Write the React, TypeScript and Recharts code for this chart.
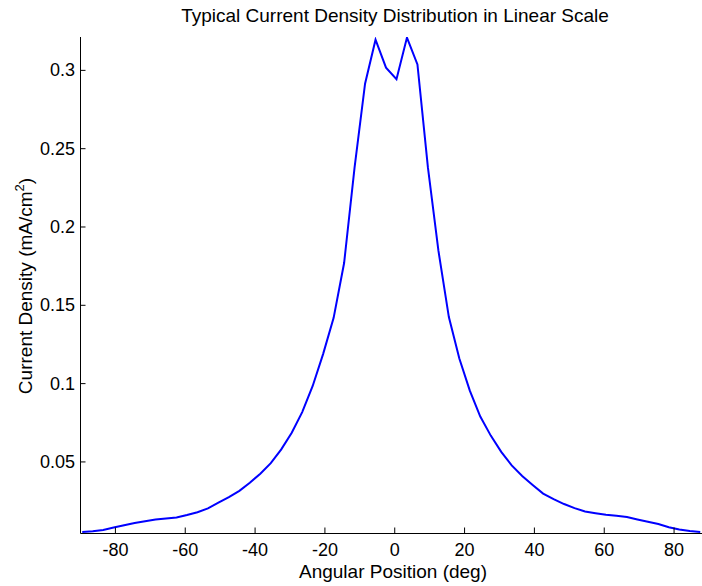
import React from "react";
import { LineChart, Line, XAxis, YAxis } from "recharts";

// angular positions (deg) and measured current density (mA/cm^2)
const angles = [
  -89.5, -86.5, -83.5, -80.5, -77.5, -74.5, -71.5, -68.5, -65.5, -62.5,
  -59.5, -56.5, -53.5, -50.5, -47.5, -44.5, -41.5, -38.5, -35.5, -32.5,
  -29.5, -26.5, -23.5, -20.5, -17.5, -14.5, -11.5, -8.5, -5.5, -2.5,
  0.5, 3.5, 6.5, 9.5, 12.5, 15.5, 18.5, 21.5, 24.5, 27.5,
  30.5, 33.5, 36.5, 39.5, 42.5, 45.5, 48.5, 51.5, 54.5, 57.5,
  60.5, 63.5, 66.5, 69.5, 72.5, 75.5, 78.5, 81.5, 84.5, 87.5,
];
const density = [
  0.0053, 0.0058, 0.0066, 0.0081, 0.0096, 0.011, 0.0121, 0.0132, 0.0138, 0.0145,
  0.0161, 0.0179, 0.0203, 0.024, 0.0275, 0.0315, 0.0367, 0.0425, 0.0492, 0.058,
  0.0686, 0.0818, 0.0985, 0.119, 0.142, 0.177, 0.238, 0.2915, 0.3196, 0.3017,
  0.2943, 0.3209, 0.3038, 0.238, 0.185, 0.1425, 0.116, 0.0955, 0.079, 0.0668,
  0.0564, 0.0478, 0.041, 0.0353, 0.0298, 0.0262, 0.0231, 0.0205, 0.0184, 0.0173,
  0.0163, 0.0156, 0.0148, 0.0133, 0.0118, 0.0104, 0.0083, 0.0069, 0.0059, 0.0052,
];
const xTicks = [-80, -60, -40, -20, 0, 20, 40, 60, 80];
const yTicks = [0.05, 0.1, 0.15, 0.2, 0.25, 0.3];

const data = angles.map((deg, i) => ({ deg, value: density[i] }));

const FONT = "'Liberation Sans', Arial, Helvetica, sans-serif";
const PLOT_LEFT = 80.5;
const PLOT_TOP = 37;
const PLOT_BOTTOM = 533.5;

function BottomTick({ x, payload }: any) {
  return (
    <g>
      <line x1={x} x2={x} y1={PLOT_BOTTOM} y2={PLOT_BOTTOM - 6} stroke="#000" />
      <text x={x} y={556} textAnchor="middle" fontSize={18} fontFamily={FONT} fill="#000">
        {payload.value}
      </text>
    </g>
  );
}

function TopTick({ x }: any) {
  return <line x1={x} x2={x} y1={PLOT_TOP} y2={PLOT_TOP + 6} stroke="#000" />;
}

function LeftTick({ y, payload }: any) {
  return (
    <g>
      <line x1={PLOT_LEFT} x2={PLOT_LEFT + 5} y1={y} y2={y} stroke="#000" />
      <text x={75} y={y} dy={6} textAnchor="end" fontSize={18} fontFamily={FONT} fill="#000">
        {String(payload.value)}
      </text>
    </g>
  );
}

export default function App() {
  return (
    <div style={{ position: "absolute", left: 0, top: 0, width: 702, height: 586, background: "#fff", overflow: "hidden" }}>
      <div
        style={{
          position: "absolute",
          left: 0,
          top: 5,
          width: 790,
          textAlign: "center",
          fontFamily: FONT,
          fontSize: 19,
          lineHeight: "22px",
          color: "#000",
          whiteSpace: "nowrap",
        }}
      >
        Typical Current Density Distribution in Linear Scale
      </div>
      <LineChart width={702} height={586} data={data} margin={{ top: PLOT_TOP, right: 0, bottom: 0, left: 0 }}>
        <XAxis
          xAxisId="bottom"
          dataKey="deg"
          type="number"
          domain={[-90, 88]}
          allowDataOverflow
          ticks={xTicks}
          height={586 - PLOT_BOTTOM}
          axisLine={{ stroke: "#000" }}
          tickLine={false}
          tick={<BottomTick />}
          label={() => (
            <text x={393} y={578} textAnchor="middle" fontSize={19} fontFamily={FONT} fill="#000">
              Angular Position (deg)
            </text>
          )}
        />
        <XAxis
          xAxisId="top"
          orientation="top"
          dataKey="deg"
          type="number"
          domain={[-90, 88]}
          allowDataOverflow
          ticks={xTicks}
          height={0}
          axisLine={{ stroke: "#000" }}
          tickLine={false}
          tick={<TopTick />}
        />
        <YAxis
          type="number"
          domain={[0.0043, 0.3213]}
          allowDataOverflow
          ticks={yTicks}
          width={PLOT_LEFT}
          axisLine={{ stroke: "#000" }}
          tickLine={false}
          tick={<LeftTick />}
          label={() => (
            <text
              x={31.5}
              y={286}
              transform="rotate(-90 31.5 286)"
              textAnchor="middle"
              fontSize={19}
              fontFamily={FONT}
              fill="#000"
            >
              Current Density (mA/cm
              <tspan fontSize={13} dy={-8}>2</tspan>
              <tspan dy={8}>)</tspan>
            </text>
          )}
        />
        <Line
          xAxisId="bottom"
          type="linear"
          dataKey="value"
          stroke="#0000ff"
          strokeWidth={2}
          dot={false}
          isAnimationActive={false}
        />
      </LineChart>
    </div>
  );
}
